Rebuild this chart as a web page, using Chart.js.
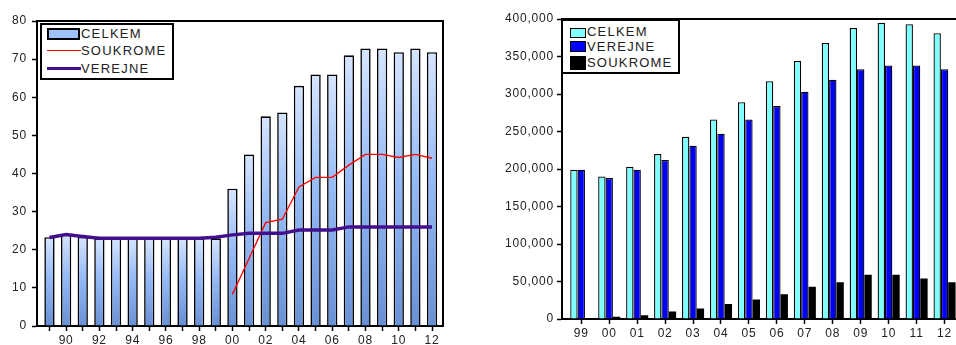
<!DOCTYPE html>
<html>
<head>
<meta charset="utf-8">
<script src="https://cdn.jsdelivr.net/npm/chart.js@4.4.1/dist/chart.umd.min.js"></script>
<style>
body { margin: 0; width: 956px; height: 345px; overflow: hidden; background: #fff; position: relative;
       font-family: "Liberation Sans", Arial, sans-serif; }
canvas { position: absolute; top: 0; }
#left { left: 0; }
#right { left: 480px; }
.legend { position: absolute; border: 2px solid #000; background: #fff; box-sizing: border-box; }
.item { position: absolute; font-size: 13px; line-height: 16px; letter-spacing: 1.2px; color: #222; white-space: nowrap; }
.sw { position: absolute; box-sizing: border-box; }
</style>
</head>
<body>
<canvas id="left" width="446" height="345"></canvas>
<canvas id="right" width="476" height="345"></canvas>

<div class="legend" style="left:40px;top:23px;width:134px;height:57px"></div>
<div class="sw" style="left:47px;top:28px;width:33px;height:12px;background:#9dc3fa;border:2px solid #000"></div>
<div class="item" style="left:81px;top:26px">CELKEM</div>
<div class="sw" style="left:47px;top:50px;width:34px;height:1px;background:#ff0000"></div>
<div class="item" style="left:81px;top:43px">SOUKROME</div>
<div class="sw" style="left:47px;top:67px;width:34px;height:3px;background:#42108f"></div>
<div class="item" style="left:81px;top:61px">VEREJNE</div>

<div class="legend" style="left:561px;top:19px;width:119px;height:55px"></div>
<div class="sw" style="left:570px;top:28px;width:16px;height:10px;background:#80ffff;border:1.5px solid #000"></div>
<div class="item" style="left:587px;top:24px">CELKEM</div>
<div class="sw" style="left:570px;top:41px;width:16px;height:11px;background:#0000ff;border:1.5px solid #000"></div>
<div class="item" style="left:587px;top:39px">VEREJNE</div>
<div class="sw" style="left:570px;top:56px;width:16px;height:14px;background:#000"></div>
<div class="item" style="left:587px;top:55px">SOUKROME</div>

<script>
// left chart: 1989-2012
const yearsL = [1989, 1990, 1991, 1992, 1993, 1994, 1995, 1996, 1997, 1998, 1999, 2000,
                2001, 2002, 2003, 2004, 2005, 2006, 2007, 2008, 2009, 2010, 2011, 2012];
const celkemL = [23.3, 24.0, 23.4, 23, 23, 23, 23, 23, 23, 23, 23, 36,
                 45, 55, 56, 63, 66, 66, 71, 72.8, 72.8, 71.8, 72.8, 71.8];
const soukromeL = [null, null, null, null, null, null, null, null, null, null, null, 8.3,
                   17.7, 27.1, 28, 36.5, 39, 39, 42.2, 45, 45, 44.2, 45, 44];
const verejneL = [23.2, 24.0, 23.5, 23, 23, 23, 23, 23, 23, 23, 23.3, 23.9,
                  24.3, 24.3, 24.3, 25.2, 25.2, 25.2, 26, 26, 26, 26, 26, 26];
const ticksL = [0, 10, 20, 30, 40, 50, 60, 70, 80];

// right chart: 1999-2012
const yearsR = [1999, 2000, 2001, 2002, 2003, 2004, 2005, 2006, 2007, 2008, 2009, 2010, 2011, 2012];
const celkemR = [199000, 190000, 203000, 220000, 243000, 266000, 289000,
                 317000, 344000, 368000, 388000, 395000, 393000, 381000];
const verejneR = [199000, 188000, 199000, 212000, 231000, 247000, 266000,
                  284000, 303000, 319000, 333000, 338000, 338000, 333000];
const soukromeR = [0, 3000, 5000, 10000, 14000, 20000, 26000,
                   33000, 43000, 49000, 59000, 59000, 54000, 49000];
const ticksR = [0, 50000, 100000, 150000, 200000, 250000, 300000, 350000, 400000];

const pts = (xs, ys) => xs.map((x, i) => ({ x: x, y: ys[i] }));
const FONT = { family: '"Liberation Sans", Arial, sans-serif', size: 12 };

const spacing = {
    id: 'spacing',
    beforeLayout(chart) { chart.ctx.letterSpacing = '0.8px'; },
    beforeDraw(chart) { chart.ctx.letterSpacing = '0.8px'; }
};

// top (and right) frame lines
const frame = {
    id: 'frame',
    afterDraw(chart, args, opts) {
        const a = chart.chartArea, ctx = chart.ctx;
        ctx.save();
        ctx.strokeStyle = '#000';
        ctx.lineWidth = 2;
        ctx.beginPath();
        ctx.moveTo(a.left, a.top);
        ctx.lineTo(a.right, a.top);
        if (opts.right) ctx.lineTo(a.right, a.bottom);
        ctx.stroke();
        ctx.restore();
    }
};

function barGradient(c) {
    const chart = c.chart;
    const y = chart.scales.y;
    if (!y || c.type !== 'data' || !c.raw) return '#9dc3fa';
    const top = y.getPixelForValue(c.raw.y);
    const bot = y.getPixelForValue(0);
    if (!isFinite(top) || !isFinite(bot) || top === bot) return '#9dc3fa';
    const g = chart.ctx.createLinearGradient(0, top, 0, bot);
    g.addColorStop(0, '#d6e5ff');
    g.addColorStop(0.45, '#96bbf7');
    g.addColorStop(1, '#6890d4');
    return g;
}

function xAxis(years, min, max, height, labelFn) {
    return {
        type: 'linear',
        offset: false,
        min: min,
        max: max,
        afterBuildTicks: s => { s.ticks = years.map(v => ({ value: v })); },
        afterFit: s => { s.height = height; },
        ticks: { autoSkip: false, maxRotation: 0, color: '#222', font: FONT, padding: 2, callback: labelFn },
        grid: { offset: false, drawOnChartArea: false, drawTicks: true, tickLength: 5, color: '#000', tickWidth: 1.5 },
        border: { color: '#000', width: 2 }
    };
}

function yAxis(ticks, width, fmt, pad) {
    return {
        min: ticks[0],
        max: ticks[ticks.length - 1],
        afterBuildTicks: s => { s.ticks = ticks.map(v => ({ value: v })); },
        afterFit: s => { s.width = width; },
        ticks: { color: '#222', font: FONT, padding: pad, callback: fmt },
        grid: { drawOnChartArea: false, drawTicks: true, tickLength: 5, color: '#000', tickWidth: 1.5 },
        border: { color: '#000', width: 2 }
    };
}

new Chart(document.getElementById('left'), {
    type: 'bar',
    data: {
        datasets: [
            {
                type: 'line', label: 'VEREJNE', data: pts(yearsL, verejneL), order: 1,
                borderColor: '#42108f', borderWidth: 3.5, pointRadius: 0, tension: 0
            },
            {
                type: 'line', label: 'SOUKROME', data: pts(yearsL, soukromeL), order: 2,
                borderColor: '#ff0000', borderWidth: 1.3, pointRadius: 0, tension: 0
            },
            {
                label: 'CELKEM', data: pts(yearsL, celkemL), order: 3,
                backgroundColor: barGradient, borderColor: '#000', borderWidth: 1.6,
                categoryPercentage: 1, barPercentage: 0.62
            }
        ]
    },
    options: {
        responsive: false,
        animation: false,
        layout: { padding: { top: 21, right: 3, left: 0, bottom: 0 } },
        plugins: { legend: { display: false }, tooltip: { enabled: false }, frame: { right: true } },
        scales: {
            x: xAxis(yearsL, 1988.25, 2012.66, 19, v => (v % 2 === 0 ? String(v).slice(2) : '')),
            y: yAxis(ticksL, 37, v => v, 5)
        }
    },
    plugins: [spacing, frame]
});

new Chart(document.getElementById('right'), {
    type: 'bar',
    data: {
        datasets: [
            { label: 'CELKEM', data: pts(yearsR, celkemR), backgroundColor: '#80ffff', borderColor: '#000', borderWidth: 1.3 },
            { label: 'VEREJNE', data: pts(yearsR, verejneR), backgroundColor: '#0000ff', borderColor: '#000', borderWidth: 1.3 },
            { label: 'SOUKROME', data: pts(yearsR, soukromeR), backgroundColor: '#000000', borderWidth: 0 }
        ]
    },
    options: {
        responsive: false,
        animation: false,
        datasets: { bar: { categoryPercentage: 0.79, barPercentage: 1 } },
        layout: { padding: { top: 19, right: 0, left: 0, bottom: 0 } },
        plugins: { legend: { display: false }, tooltip: { enabled: false }, frame: { right: false } },
        scales: {
            x: xAxis(yearsR, 1998.31, 2012.41, 26, v => String(v).slice(2)),
            y: yAxis(ticksR, 82, v => v.toLocaleString('en-US'), 3)
        }
    },
    plugins: [spacing, frame]
});
</script>
</body>
</html>
